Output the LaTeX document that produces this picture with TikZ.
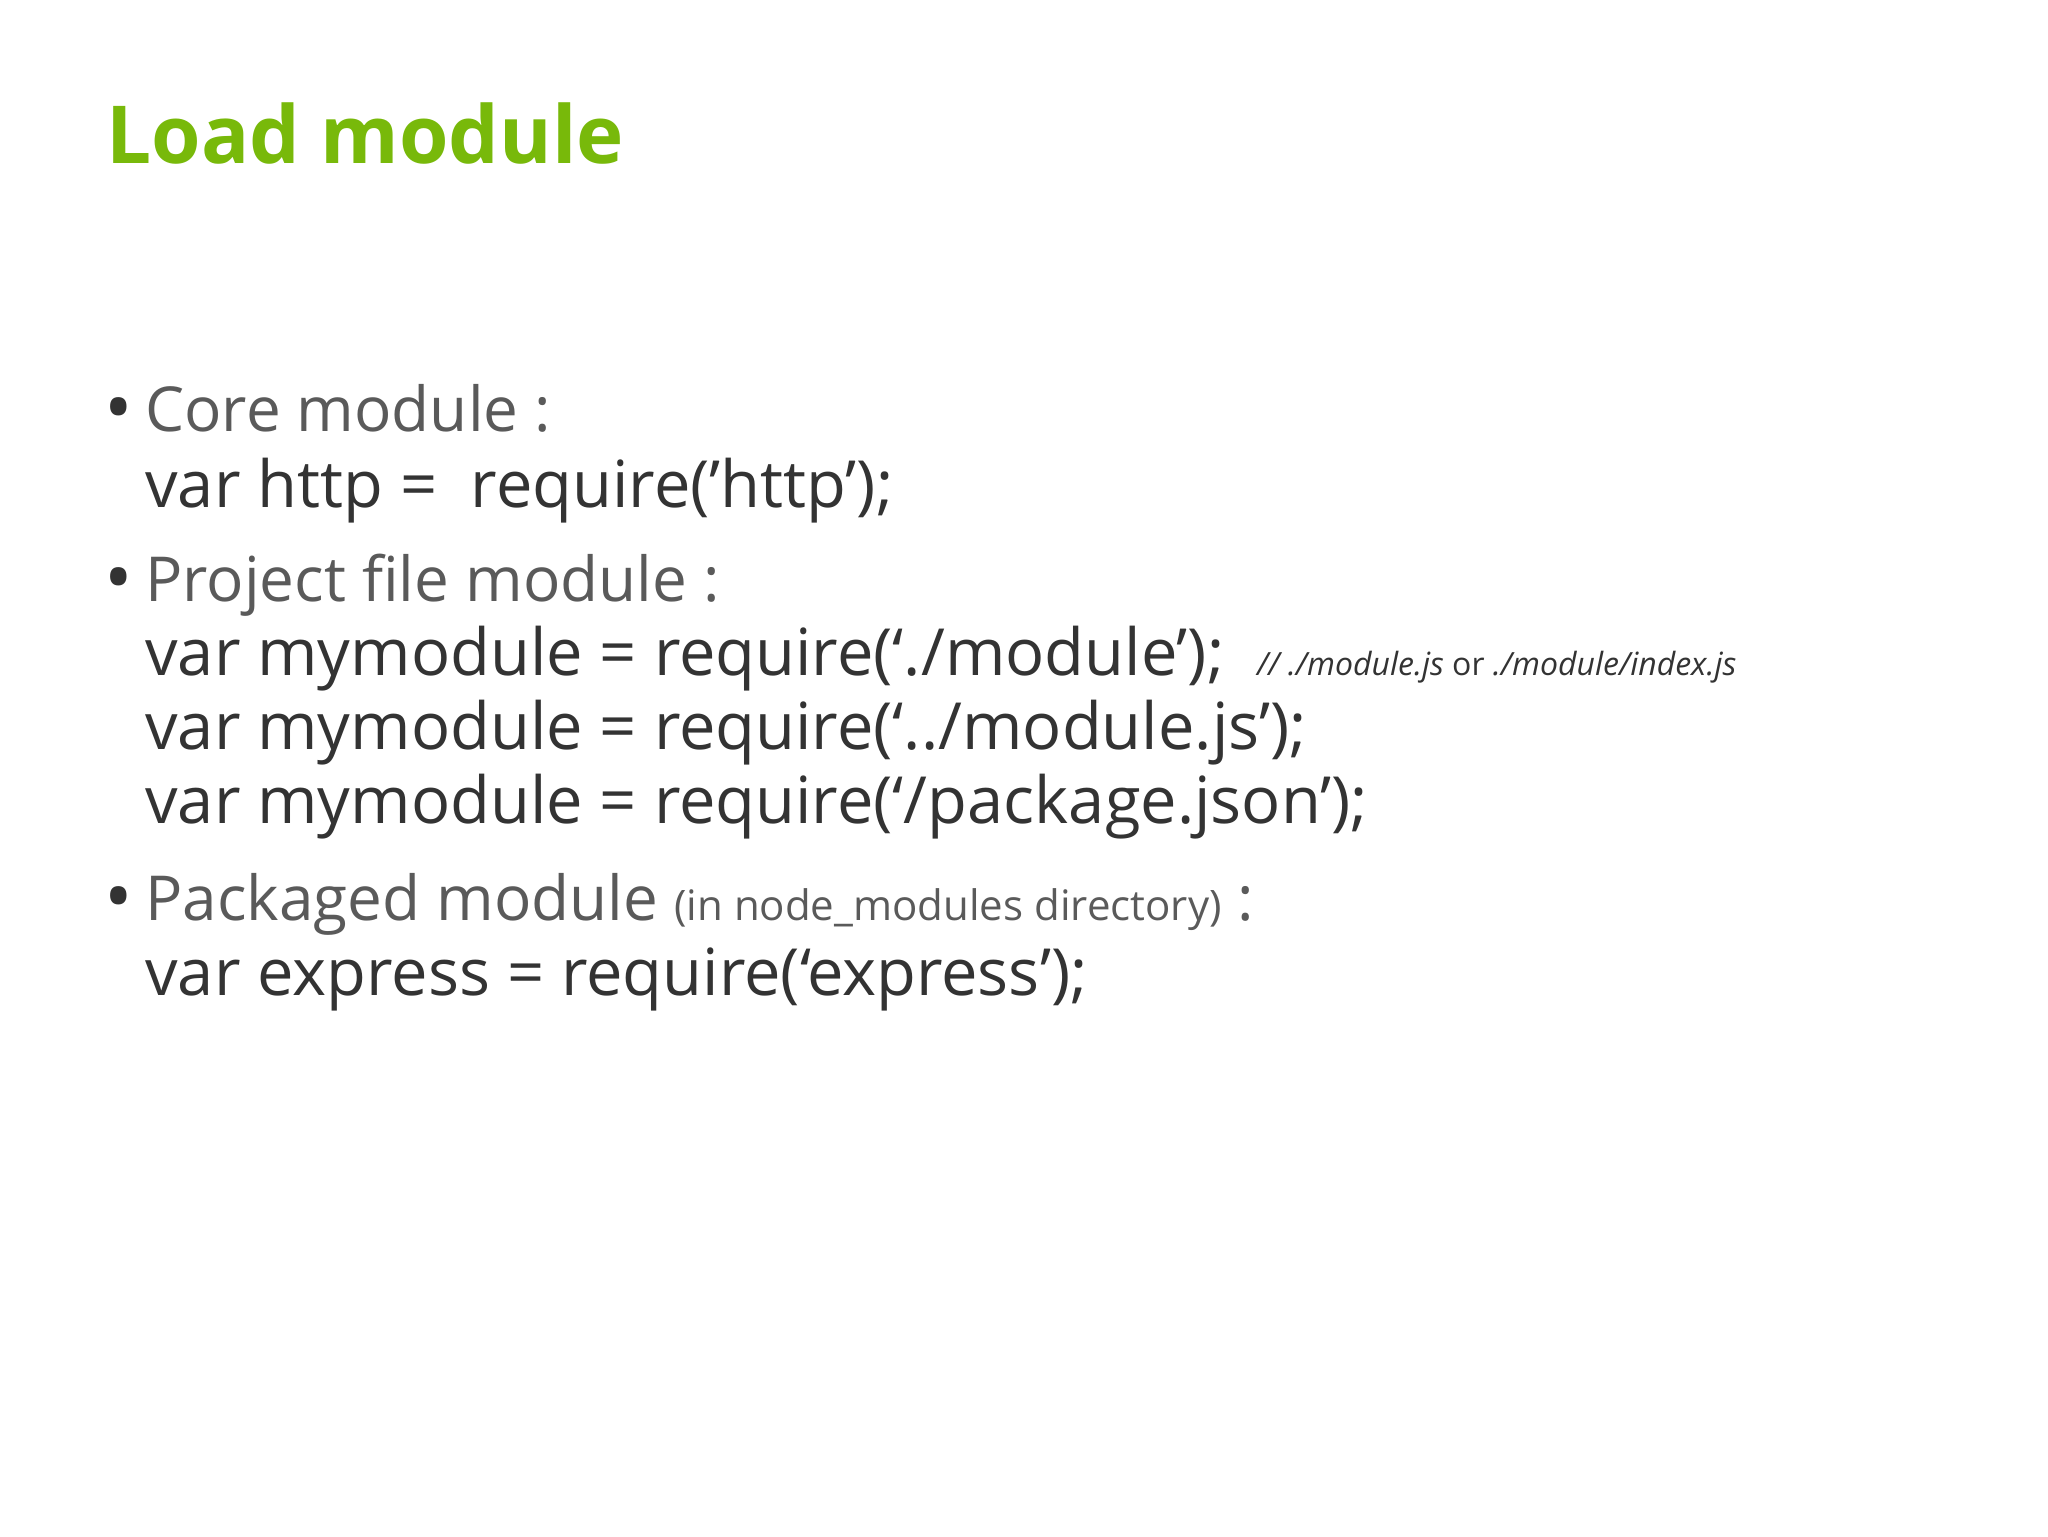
\documentclass[tikz,border=0pt]{standalone}
\usepackage{fontspec}
\setmainfont{Open Sans}
\definecolor{ttl}{HTML}{78B90A}
\definecolor{code}{HTML}{333333}
\definecolor{lite}{HTML}{5A5A5A}
\begin{document}
\begin{tikzpicture}[x=1pt,y=1pt,
  every node/.style={anchor=base west,inner sep=0pt},
  head/.style={font=\fontsize{31}{36}\selectfont,text=lite},
  codeln/.style={font=\fontsize{32.5}{34}\selectfont,text=code},
  bul/.style={font=\fontsize{38}{40}\selectfont,text=code},
  cmt/.style={font=\fontsize{16}{18}\selectfont\itshape,text=code}]
\fill[white] (0,0) rectangle (1024,-768);
\useasboundingbox (0,0) rectangle (1024,-768);
\node[font=\fontsize{40}{44}\selectfont\bfseries,text=ttl] (title) at (53,-81.5) {Load module};
\node[bul] (b1) at (52,-217) {•};
\node[head] (h1) at (72.5,-215.5) {Core module :};
\node[codeln] (c1) at (72.5,-253.5) {var http =\ \ require('http');};
\node[bul] (b2) at (52,-302) {•};
\node[head] (h2) at (72.5,-300.5) {Project file module :};
\node[codeln] (c2) at (72.5,-337.5) {var mymodule = require(‘./module’);};
\node[cmt] (cm) at ([xshift=16pt]c2.base east) {// ./module.js {\upshape or} ./module/index.js};
\node[codeln] (c3) at (72.5,-374.5) {var mymodule = require(‘../module.js’);};
\node[codeln] (c4) at (72.5,-411.5) {var mymodule = require(‘/package.json’);};
\node[bul] (b3) at (52,-461.5) {•};
\node[head] (h3) at (72.5,-460) {Packaged module {\fontsize{21}{26}\selectfont(in node\_modules directory)} :};
\node[codeln] (c5) at (72.5,-497.5) {var express = require(‘express’);};
\end{tikzpicture}
\end{document}
